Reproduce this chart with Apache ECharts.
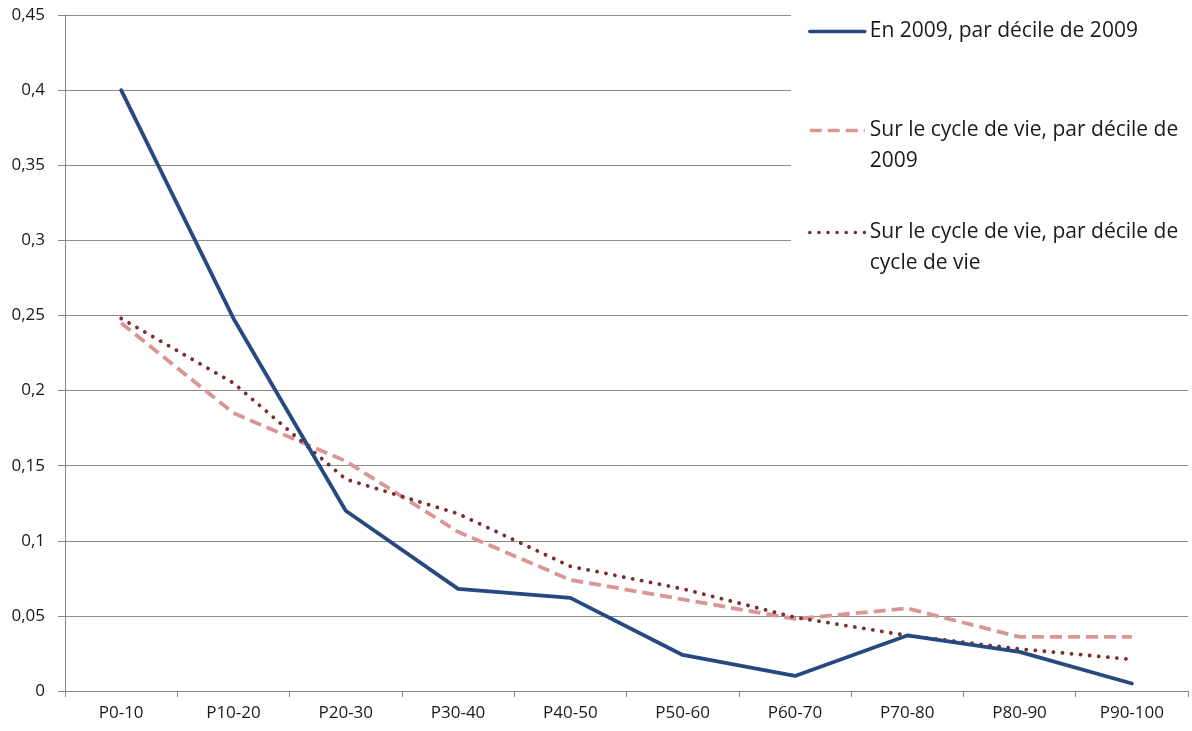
<!DOCTYPE html>
<html>
<head>
<meta charset="utf-8">
<title>Taux par décile</title>
<script src="https://cdn.jsdelivr.net/npm/echarts@6/dist/echarts.min.js"></script>
<style>
  html, body { margin: 0; padding: 0; background: #ffffff; }
  #chart { width: 1192px; height: 731px; }
</style>
</head>
<body>
<div id="chart"></div>
<script>
// Déciles (axe des abscisses)
const categories = ['P0-10', 'P10-20', 'P20-30', 'P30-40', 'P40-50', 'P50-60', 'P60-70', 'P70-80', 'P80-90', 'P90-100'];

// Séries
const seriesNames = [
  'En 2009, par décile de 2009',
  'Sur le cycle de vie, par décile de 2009',
  'Sur le cycle de vie, par décile de cycle de vie'
];
const annee2009 = [0.400, 0.248, 0.120, 0.068, 0.062, 0.024, 0.010, 0.037, 0.026, 0.005];
const cycleDecile2009 = [0.245, 0.185, 0.153, 0.106, 0.074, 0.061, 0.048, 0.055, 0.036, 0.036];
const cycleDecileCycle = [0.248, 0.205, 0.141, 0.118, 0.083, 0.068, 0.049, 0.037, 0.028, 0.021];

// Graduations de l'axe vertical
const yMin = 0, yMax = 0.45, yStep = 0.05;

const FONT = '"Open Sans", "Noto Sans", sans-serif';
// Libellés de légende ; la ligne vide en tête garde le trait aligné sur la première ligne
const legendLabels = {
  'En 2009, par décile de 2009': 'En 2009, par décile de 2009',
  'Sur le cycle de vie, par décile de 2009': '\nSur le cycle de vie, par décile de\n2009',
  'Sur le cycle de vie, par décile de cycle de vie': '\nSur le cycle de vie, par décile de\ncycle de vie'
};
const LH = 31;

const BLUE = '#26497f', PINK = '#d99694', DARKRED = '#7e2c2c';
const DOTS = [0.1, 9];

function legendFor(name, top, lineWidth) {
  return {
    data: [name],
    left: 808,
    top: top,
    orient: 'vertical',
    padding: 0,
    itemWidth: 55,
    itemHeight: 14,
    itemGap: 0,
    itemStyle: { opacity: 0 },
    lineStyle: { width: lineWidth },
    selectedMode: false,
    textStyle: {
      fontFamily: FONT,
      fontSize: 21,
      color: '#1a1a1a',
      lineHeight: LH
    },
    formatter: n => legendLabels[n]
  };
}

const chart = echarts.init(document.getElementById('chart'), null, { renderer: 'canvas' });
chart.setOption({
  backgroundColor: '#ffffff',
  animation: false,
  grid: { left: 65, right: 4, top: 15, bottom: 40 },
  // panneau blanc sous la légende
  graphic: [{
    type: 'rect',
    right: 0,
    top: 0,
    z: 3,
    shape: { width: 401, height: 292 },
    style: { fill: '#ffffff' }
  }],
  legend: [
    legendFor(seriesNames[0], 16, 3.5),
    legendFor(seriesNames[1], 84, 3.5),
    legendFor(seriesNames[2], 186, 3.5)
  ],
  xAxis: {
    type: 'category',
    data: categories,
    boundaryGap: true,
    axisLine: { lineStyle: { color: '#868686', width: 1 } },
    axisTick: { show: true, length: 6, lineStyle: { color: '#868686' } },
    axisLabel: { fontFamily: FONT, fontSize: 17, color: '#1a1a1a', margin: 14 },
    splitLine: { show: false }
  },
  yAxis: {
    type: 'value',
    min: yMin,
    max: yMax,
    interval: yStep,
    axisLine: { show: true, lineStyle: { color: '#868686', width: 1 } },
    axisTick: { show: true, length: 7, lineStyle: { color: '#868686' } },
    axisLabel: {
      fontFamily: FONT, fontSize: 17, color: '#1a1a1a', margin: 20,
      formatter: v => String(Math.round(v * 100) / 100).replace('.', ',')
    },
    splitLine: { show: true, lineStyle: { color: '#8c8c8c', width: 1 } }
  },
  series: [
    {
      name: seriesNames[0],
      type: 'line',
      data: annee2009,
      symbol: 'none',
      z: 5,
      lineStyle: { color: BLUE, width: 3.8, cap: 'round', join: 'round' },
      itemStyle: { color: BLUE }
    },
    {
      name: seriesNames[1],
      type: 'line',
      data: cycleDecile2009,
      symbol: 'none',
      z: 4,
      lineStyle: { color: PINK, width: 3.8, type: [12, 6], join: 'round' },
      itemStyle: { color: PINK }
    },
    {
      name: seriesNames[2],
      type: 'line',
      data: cycleDecileCycle,
      symbol: 'none',
      z: 4,
      lineStyle: { color: DARKRED, width: 3.8, type: DOTS, cap: 'round', join: 'round' },
      itemStyle: { color: DARKRED }
    }
  ]
});
</script>
</body>
</html>
